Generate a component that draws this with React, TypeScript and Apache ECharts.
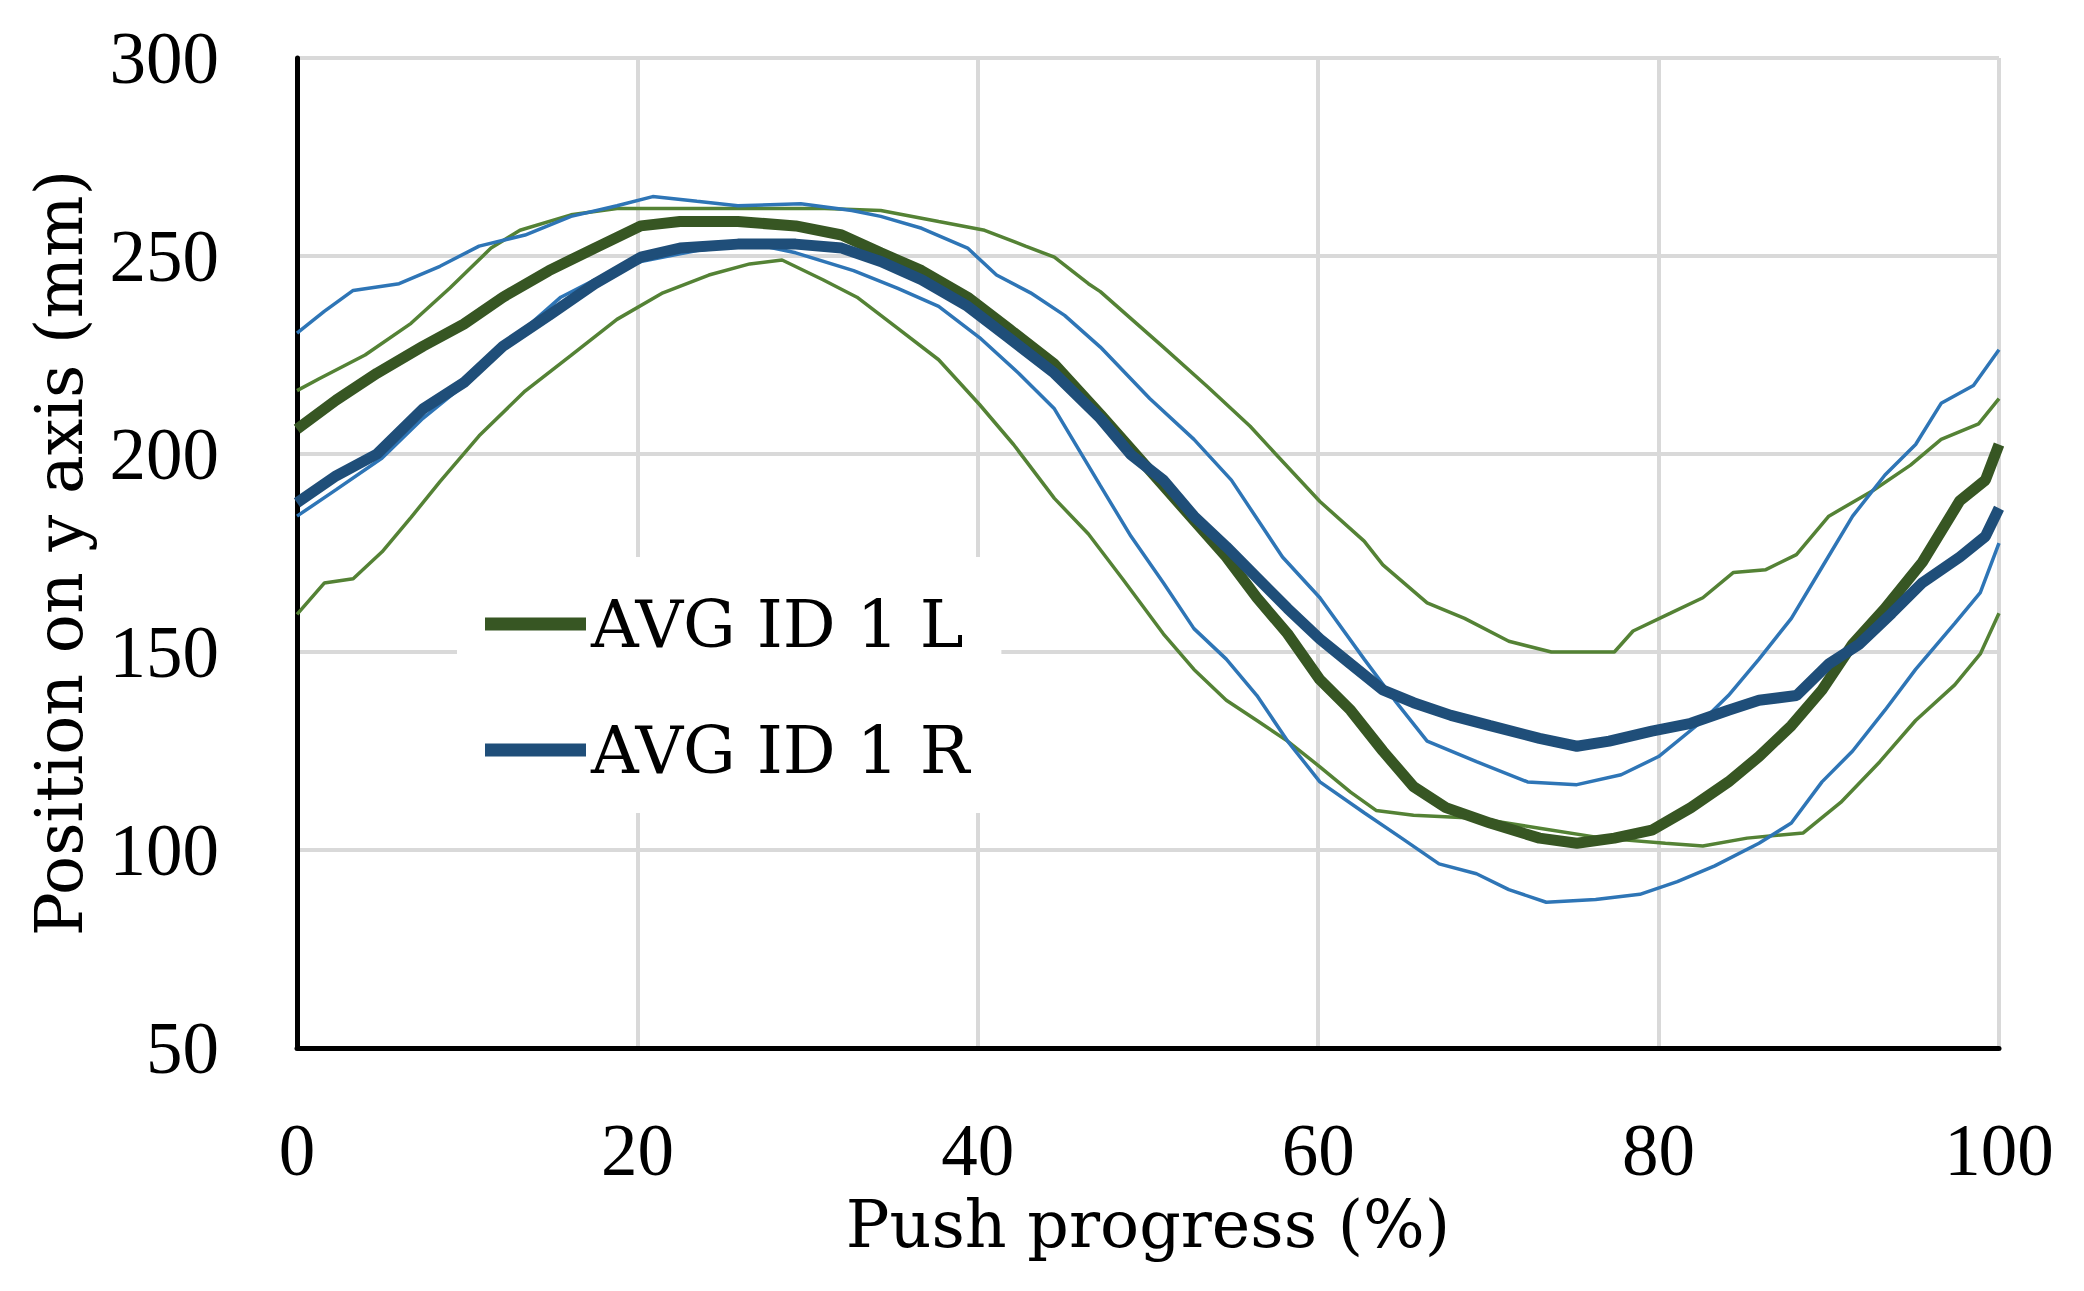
import React, { useEffect, useRef } from "react";
import * as echarts from "echarts";

// Push progress (%) / position on y axis (mm)
const lUpper: number[][] = [
  [0, 216], [1.3, 219], [4, 225], [6.7, 233], [9, 242], [11.4, 252], [13.1, 256.5], [16.1, 260.4],
  [18.8, 262], [22.5, 262], [27.6, 262], [31, 262], [34.3, 261.5], [37.7, 258.7], [40.4, 256.5],
  [42.8, 252.5], [44.5, 249.7], [46.5, 243], [47.2, 241], [50.9, 227], [53.5, 217], [56, 207],
  [57.5, 200], [60.1, 188], [62.7, 178], [63.8, 172], [66.4, 162.4], [68.6, 158.5], [71.2, 152.7],
  [73.7, 150], [77.4, 150], [78.5, 155.3], [80.7, 159.8], [82.6, 163.7], [84.4, 170.1], [86.3, 170.8],
  [88.1, 174.6], [90, 184.3], [92.6, 190.8], [94.8, 197.2], [96.6, 203.7], [98.8, 207.6], [100, 214],
];
const lLower: number[][] = [
  [0, 159.5], [1.6, 167.4], [3.3, 168.5], [5, 175.3], [6.7, 184], [8.4, 193], [10.7, 204.6],
  [13.4, 215.9], [16.1, 224.9], [18.8, 234], [21.5, 240.7], [24.2, 245.2], [26.6, 248], [28.5, 249],
  [30.9, 244], [32.9, 239.6], [35.3, 231.7], [37.7, 223.8], [40.1, 212.5], [42.1, 202.4], [44.5, 188.8],
  [46.5, 179.8], [48.5, 168.5], [50.9, 154.6], [52.7, 145.6], [54.6, 137.8], [56.4, 132.7], [58.2, 127.5],
  [60.1, 121], [61.9, 114.6], [63.4, 110], [65.6, 108.8], [69.3, 108], [73, 105.5], [76.7, 103],
  [80.4, 101.7], [82.6, 101], [85.2, 103], [88.5, 104.3], [90.7, 112], [93, 122.3], [95.1, 132.7],
  [97.4, 141.7], [98.9, 149.5], [100, 159.8],
];
const rUpper: number[][] = [
  [0, 230.5], [1.6, 236], [3.3, 241.3], [6, 243], [8.4, 247.4], [10.7, 252.5], [13.4, 255.3],
  [16.1, 260], [18.8, 262.7], [20.9, 265], [23.5, 263.8], [25.9, 262.7], [29.6, 263.2], [32.6, 261.5],
  [34.3, 260], [36.7, 257], [39.4, 252], [41.1, 245.2], [43.1, 240.7], [45.1, 235], [47.2, 227],
  [50.1, 214], [52.7, 203.7], [54.9, 193.4], [57.9, 174], [60.1, 163.7], [62.7, 148.2], [64.5, 137.8],
  [66.4, 127.5], [69.3, 122.3], [72.3, 117.2], [75.2, 116.5], [77.8, 119], [80, 123.6], [82.6, 132.7],
  [84.1, 139], [85.9, 148.2], [87.8, 158.5], [89.6, 171.4], [91.4, 184.3], [93.3, 194.7], [95.1, 202.4],
  [96.6, 212.8], [98.5, 217.3], [100, 226.3],
];
const rLower: number[][] = [
  [0, 184.3], [2.3, 191], [5, 199], [7.4, 209], [9.4, 216], [10.7, 221.5], [12.8, 229.4], [15.5, 239.6],
  [17.5, 244], [20.2, 248.6], [23.5, 251.4], [26.9, 253], [29.3, 250.8], [32.7, 246.3], [35.3, 241.8],
  [37.7, 237.3], [40.1, 229.4], [42.4, 220.4], [44.5, 211.4], [47.2, 192], [49, 179.2],
  [50.9, 167.5], [52.7, 155.9], [54.6, 148.2], [56.4, 139], [58.2, 127.5], [60.1, 117.2], [62.7, 109.4],
  [64.9, 103], [67.1, 96.5], [69.3, 94], [71.2, 90], [73.4, 86.8], [76.3, 87.5], [78.9, 88.8], [81.1, 92],
  [83.3, 96], [85.9, 101.7], [87.8, 106.8], [89.6, 117.2], [91.4, 125], [93.3, 135.3], [95.1, 145.6],
  [97.4, 157.2], [98.9, 165], [100, 177.5],
];
const avgL: number[][] = [
  [0, 206.3], [2.3, 213.6], [4.7, 220.4], [7.4, 227.2], [9.8, 232.8], [12.1, 239.6], [14.8, 246.3],
  [17.5, 252], [20.2, 257.6], [22.5, 258.7], [25.9, 258.7], [29.3, 257.6], [32, 255.3], [34.3, 250.8],
  [36.7, 246.3], [39.4, 239.6], [41.8, 231.7], [44.5, 222.7], [47.2, 210], [50.9, 192], [54.6, 174],
  [56.4, 163.7], [58.2, 154.6], [60.1, 143], [61.9, 135.3], [63.8, 125], [65.6, 116], [67.5, 110.7],
  [70.1, 106.8], [73, 103], [75.2, 101.7], [77.4, 103], [79.6, 105], [81.9, 110.7], [84.1, 117.2],
  [85.9, 123.6], [87.8, 131.4], [89.6, 140.4], [91.4, 152], [93.3, 161], [95.5, 172.7], [97.7, 188.2],
  [99.2, 193.4], [100, 202.4],
];
const avgR: number[][] = [
  [0, 187.7], [2.3, 194.5], [4.7, 200], [7.4, 211.4], [9.8, 218], [12.1, 227.2], [14.8, 235],
  [17.5, 243], [20.2, 249.7], [22.5, 252], [25.9, 253], [29.3, 253], [32, 252], [34.3, 248.6],
  [36.7, 244], [39.4, 237.3], [41.8, 229.4], [44.5, 220.4], [47.2, 209], [49, 199.8], [50.9, 193.4],
  [52.7, 184.3], [54.6, 176.6], [56.4, 168.8], [58.2, 161], [60.1, 153.3], [61.9, 147], [63.8, 140.4],
  [65.6, 137.2], [67.8, 134], [70.1, 131.4], [73, 128.2], [75.2, 126.2], [77.1, 127.5], [79.6, 130],
  [81.9, 132], [84.1, 135.3], [85.9, 137.8], [88.1, 139], [90, 147], [91.8, 152], [93.7, 159.8],
  [95.5, 167.5], [97.7, 174], [99.2, 179.2], [100, 186.3],
];

const legendNames = ["AVG ID 1 L", "AVG ID 1 R"];
const xTitle = "Push progress (%)";
const yTitle = "Position on y axis (mm)";

const GREEN_DARK = "#375623";
const BLUE_DARK = "#1f4e79";
const GREEN_THIN = "#548235";
const BLUE_THIN = "#2e75b6";

export default function App() {
  const ref = useRef<HTMLDivElement>(null);
  useEffect(() => {
    if (!ref.current) return;
    const chart = echarts.init(ref.current, undefined, { renderer: "svg" });
    const tickFont = { fontFamily: "Liberation Serif", fontSize: 73, color: "#000" };
    const titleFont = { fontFamily: "DejaVu Serif", fontSize: 65, color: "#000" };
    const legendFont = { fontFamily: "DejaVu Serif", fontSize: 66, color: "#000" };
    const thin = (name: string, data: number[][], color: string) => ({
      name,
      type: "line",
      data,
      showSymbol: false,
      symbol: "none",
      lineStyle: { color, width: 3.5 },
      itemStyle: { color },
      z: 2,
    });
    const thick = (name: string, data: number[][], color: string, z: number) => ({
      name,
      type: "line",
      data,
      showSymbol: false,
      symbol: "none",
      lineStyle: { color, width: 11 },
      itemStyle: { color },
      z,
    });
    chart.setOption({
      animation: false,
      backgroundColor: "#fff",
      grid: { left: 289, right: 77, top: 50, bottom: 235, containLabel: false },
      xAxis: {
        type: "value",
        min: 0,
        max: 100,
        interval: 20,
        name: xTitle,
        nameLocation: "middle",
        nameGap: 138,
        nameTextStyle: titleFont,
        axisLine: { show: true, lineStyle: { color: "#000", width: 5 } },
        axisTick: { show: false },
        axisLabel: { ...tickFont, margin: 66 },
        splitLine: { show: true, lineStyle: { color: "#d9d9d9", width: 4 } },
      },
      yAxis: {
        type: "value",
        min: 50,
        max: 300,
        interval: 50,
        name: yTitle,
        nameLocation: "middle",
        nameGap: 205,
        nameTextStyle: titleFont,
        axisLine: { show: true, lineStyle: { color: "#000", width: 5 } },
        axisTick: { show: false },
        axisLabel: { ...tickFont, margin: 78 },
        splitLine: { show: true, lineStyle: { color: "#d9d9d9", width: 4 } },
      },
      legend: {
        data: legendNames,
        orient: "vertical",
        left: 449,
        top: 549,
        backgroundColor: "#fff",
        padding: [34, 32, 30, 28],
        itemGap: 60,
        itemWidth: 101,
        itemHeight: 13,
        icon: "rect",
        textStyle: legendFont,
      },
      series: [
        thin("L upper", lUpper, GREEN_THIN),
        thin("L lower", lLower, GREEN_THIN),
        thin("R upper", rUpper, BLUE_THIN),
        thin("R lower", rLower, BLUE_THIN),
        thick(legendNames[0], avgL, GREEN_DARK, 3),
        thick(legendNames[1], avgR, BLUE_DARK, 4),
      ],
    });
    return () => chart.dispose();
  }, []);
  return <div ref={ref} style={{ width: 2068, height: 1275 }} />;
}
